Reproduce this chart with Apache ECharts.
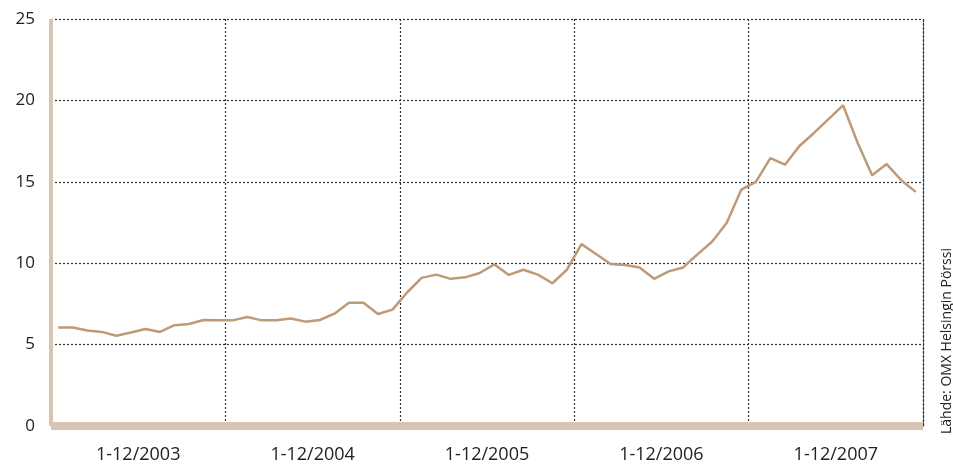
<!DOCTYPE html>
<html>
<head>
<meta charset="utf-8">
<script src="https://cdn.jsdelivr.net/npm/echarts@6/dist/echarts.min.js"></script>
<style>
  html, body { margin: 0; padding: 0; background: #fff; }
  #chart { width: 953px; height: 466px; }
</style>
</head>
<body>
<div id="chart"></div>
<script>
// monthly categories 2003-2007
var years = ["2003", "2004", "2005", "2006", "2007"];
var months = [];
years.forEach(function (y) {
  for (var m = 1; m <= 12; m++) months.push(y + "-" + (m < 10 ? "0" + m : m));
});

var values2003 = [6.05, 6.05, 5.87, 5.78, 5.54, 5.74, 5.96, 5.78, 6.19, 6.27, 6.51, 6.49];
var values2004 = [6.49, 6.7, 6.49, 6.49, 6.6, 6.41, 6.51, 6.9, 7.57, 7.57, 6.88, 7.15];
var values2005 = [8.2, 9.1, 9.3, 9.04, 9.13, 9.4, 9.93, 9.28, 9.6, 9.3, 8.77, 9.6];
var values2006 = [11.17, 10.56, 9.95, 9.89, 9.73, 9.04, 9.5, 9.74, 10.56, 11.33, 12.49, 14.52];
var values2007 = [15.0, 16.45, 16.05, 17.2, 18.0, 18.85, 19.7, 17.4, 15.4, 16.09, 15.1, 14.38];
var values = [].concat(values2003, values2004, values2005, values2006, values2007);

var yearLabels = ["1-12/2003", "1-12/2004", "1-12/2005", "1-12/2006", "1-12/2007"];
var sourceText = "Lähde: OMX Helsingin Pörssi";

var chart = echarts.init(document.getElementById("chart"));
var gridLine = { color: "#333", width: 1.2, type: [2, 2] };

chart.setOption({
  animation: false,
  textStyle: { fontFamily: "Open Sans" },
  grid: { left: 51, right: 30, top: 19, bottom: 40 },
  xAxis: {
    type: "category",
    data: months,
    boundaryGap: true,
    offset: 5,
    axisLine: { lineStyle: { color: "#d9c4b2", width: 8, cap: "butt" } },
    axisTick: { show: false },
    axisLabel: {
      interval: function (index) { return index % 12 === 6; },
      formatter: function (val, index) { return yearLabels[Math.floor(index / 12)]; },
      padding: [0, 14.5, 0, 0],
      color: "#222",
      fontSize: 18,
      margin: 15
    },
    splitLine: {
      show: true,
      interval: function (index) { return index % 12 === 0 && index > 0; },
      lineStyle: gridLine
    }
  },
  yAxis: [{
    type: "value",
    min: 0,
    max: 25,
    interval: 5,
    axisLine: { show: true, lineStyle: { color: "#d9c4b2", width: 4, cap: "butt" } },
    axisTick: { show: false },
    axisLabel: { color: "#222", fontSize: 17, margin: 16 },
    splitLine: { lineStyle: gridLine }
  }, {
    type: "value",
    position: "right",
    min: 0,
    max: 25,
    interval: 5,
    axisLine: { show: true, lineStyle: gridLine },
    axisTick: { show: false },
    axisLabel: { show: false },
    splitLine: { show: false }
  }],
  graphic: [{
    type: "text",
    x: 947,
    y: 434,
    rotation: Math.PI / 2,
    style: {
      text: sourceText,
      fill: "#222",
      font: "14px 'Open Sans'",
      align: "left",
      verticalAlign: "middle"
    }
  }],
  series: [{
    type: "line",
    data: values,
    symbol: "none",
    lineStyle: { color: "#be9a78", width: 2.5 }
  }]
});
</script>
</body>
</html>
